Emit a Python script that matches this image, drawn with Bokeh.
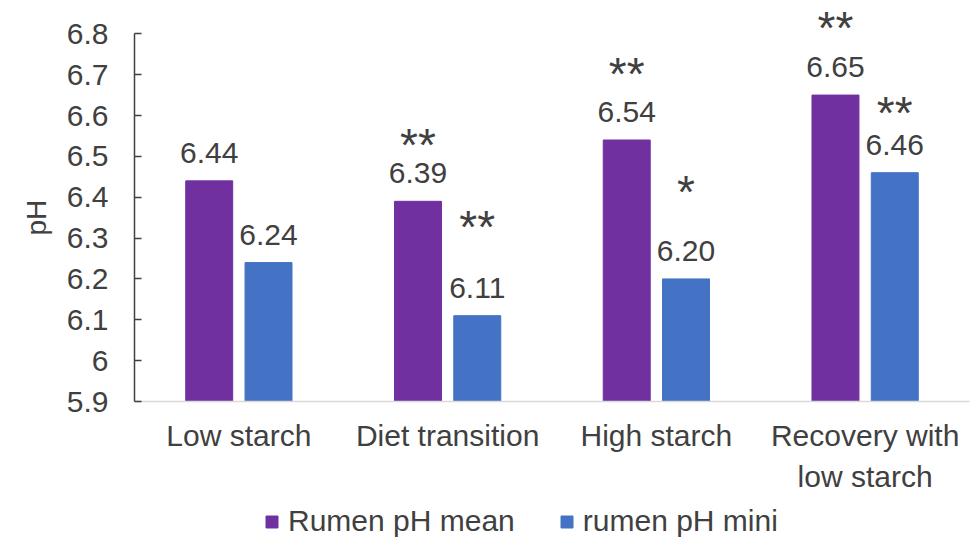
from bokeh.plotting import figure
from bokeh.layouts import column
from bokeh.models import (ColumnDataSource, Range1d, FixedTicker, LabelSet,
                          Legend, LegendItem)
from bokeh.core.properties import value
from bokeh.transform import dodge
from bokeh.embed import file_html
from bokeh.resources import INLINE

# ---- data ----
categories = ["Low starch", "Diet transition", "High starch", "Recovery with\nlow starch"]
series_names = ["Rumen pH mean", "rumen pH mini"]
rumen_ph_mean = [6.44, 6.39, 6.54, 6.65]
rumen_ph_mini = [6.24, 6.11, 6.20, 6.46]
mean_signif = ["", "**", "**", "**"]
mini_signif = ["", "**", "*", "**"]
ytick_values = [5.9, 6.0, 6.1, 6.2, 6.3, 6.4, 6.5, 6.6, 6.7, 6.8]
ytick_labels = ["5.9", "6", "6.1", "6.2", "6.3", "6.4", "6.5", "6.6", "6.7", "6.8"]

# ---- layout (screen pixels above the bar top for significance marks) ----
mean_star_lift = [0, 40, 50, 51]
mini_star_lift = [0, 73, 71, 44]
value_lift = 18

PURPLE = "#7030A0"
BLUE = "#4472C4"
TEXT = "#404040"
FONT = "Liberation Sans"
NBSP = "\u00a0"

src = ColumnDataSource(dict(
    cat=categories,
    mean=rumen_ph_mean,
    mini=rumen_ph_mini,
    mean_lbl=["%.2f" % v for v in rumen_ph_mean],
    mini_lbl=["%.2f" % v for v in rumen_ph_mini],
    mean_sig=mean_signif,
    mini_sig=mini_signif,
    mean_lift=mean_star_lift,
    mini_lift=mini_star_lift,
))

p = figure(x_range=categories, y_range=Range1d(5.9, 6.857),
           width=979, height=495, output_backend="svg", toolbar_location=None,
           min_border_left=134, min_border_right=10, min_border_top=10,
           min_border_bottom=92)
p.outline_line_color = None
p.background_fill_color = "white"
p.border_fill_color = "white"
p.xgrid.visible = False
p.ygrid.visible = False
p.x_range.range_padding = 0

off = 0.142
bw = 0.225
r1 = p.vbar(x=dodge("cat", -off, range=p.x_range), top="mean", bottom=5.9, width=bw,
            source=src, fill_color=PURPLE, line_color=PURPLE)
r2 = p.vbar(x=dodge("cat", off, range=p.x_range), top="mini", bottom=5.9, width=bw,
            source=src, fill_color=BLUE, line_color=BLUE)

for key, d in (("mean", -off), ("mini", off)):
    p.add_layout(LabelSet(x=dodge("cat", d, range=p.x_range), y=key, text=key + "_lbl",
                          y_offset=value_lift, source=src, text_align="center",
                          text_baseline="alphabetic", text_font=value(FONT),
                          text_font_size="30px", text_color=TEXT))
    p.add_layout(LabelSet(x=dodge("cat", d, range=p.x_range), y=key, text=key + "_sig",
                          y_offset=key + "_lift", source=src, text_align="center",
                          text_baseline="alphabetic", text_font=value(FONT),
                          text_font_size="46px", text_color=TEXT))

# y axis
ya = p.yaxis[0]
ya.ticker = FixedTicker(ticks=ytick_values)
ya.major_label_overrides = {v: s for v, s in zip(ytick_values, ytick_labels)}
ya.bounds = (5.9, 6.8)
ya.axis_line_color = TEXT
ya.axis_line_width = 1.5
ya.major_tick_line_color = TEXT
ya.major_tick_line_width = 1.5
ya.major_tick_in = 7
ya.major_tick_out = 0
ya.minor_tick_line_color = None
ya.major_label_standoff = 26
ya.major_label_text_font = FONT
ya.major_label_text_font_size = "30px"
ya.major_label_text_color = TEXT
ya.axis_label = "pH" + NBSP * 3
ya.axis_label_text_font = FONT
ya.axis_label_text_font_size = "28px"
ya.axis_label_text_font_style = "normal"
ya.axis_label_text_color = TEXT
ya.axis_label_standoff = 12

# x axis
xa = p.xaxis[0]
xa.axis_line_color = "#D9D9D9"
xa.axis_line_width = 1.5
xa.major_tick_line_color = None
xa.minor_tick_line_color = None
xa.major_tick_in = 0
xa.major_tick_out = 0
xa.major_label_standoff = 17
xa.major_label_text_font = FONT
xa.major_label_text_font_size = "30px"
xa.major_label_text_color = TEXT
xa.major_label_text_line_height = 1.25

# ---- legend strip below the chart (its frame is aligned with the chart's) ----
lg = figure(width=979, height=43, output_backend="svg", toolbar_location=None,
            x_axis_type=None, y_axis_type=None, x_range=(0, 1), y_range=(0, 1),
            min_border=0)
lg.outline_line_color = None
lg.grid.visible = False
# legend-only renderers: their single mark lies outside the visible range
lr1 = lg.vbar(x=[-10], top=[-10], bottom=[-11], width=0.1,
              fill_color=PURPLE, line_color=PURPLE)
lr2 = lg.vbar(x=[-10], top=[-10], bottom=[-11], width=0.1,
              fill_color=BLUE, line_color=BLUE)
legend = Legend(items=[LegendItem(label=series_names[0], renderers=[lr1]),
                       LegendItem(label=series_names[1], renderers=[lr2])],
                orientation="horizontal", location=(130, 0),
                padding=0, margin=0, spacing=44, label_standoff=9,
                glyph_width=15, glyph_height=15,
                border_line_color=None, background_fill_alpha=0,
                label_text_font=FONT, label_text_font_size="30px",
                label_text_color=TEXT)
lg.add_layout(legend)

layout = column(p, lg, spacing=0)
open("out.html", "w").write(file_html(layout, INLINE))
